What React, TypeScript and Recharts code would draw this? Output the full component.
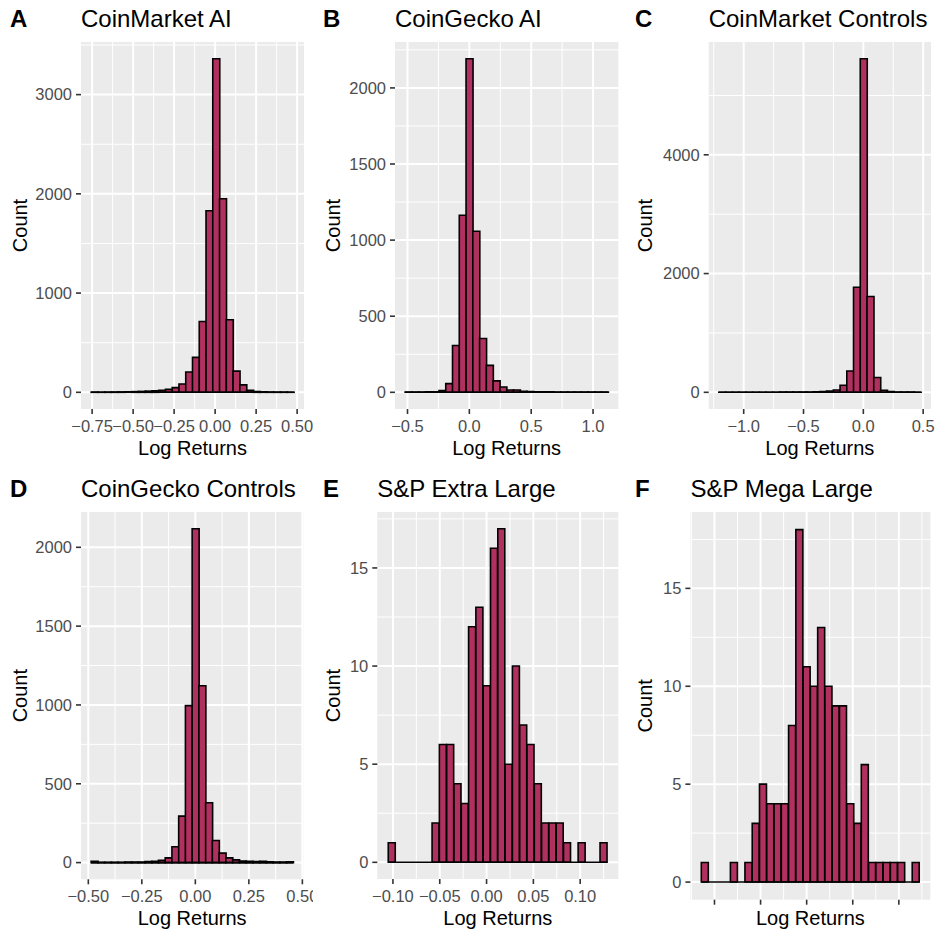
import React from "react";
import { BarChart, Bar, XAxis, YAxis, CartesianGrid, ReferenceLine } from "recharts";

const FONT = "'Liberation Sans', Arial, Helvetica, sans-serif";
const BAR_FILL = "#B03060";
const PANEL_BG = "#EBEBEB";

// A - CoinMarket AI
const cmAiCounts = [2, 1, 2, 3, 4, 5, 7, 9, 12, 15, 20, 30, 47, 84, 204, 352, 714, 1830, 3362, 1951, 731, 214, 75, 20, 8, 5, 3, 2, 2, 1];
const cmAiBin = { start: -0.756, width: 0.0412 };
const cmAiXTicks = [-0.75, -0.5, -0.25, 0, 0.25, 0.5];
const cmAiXLabels = ["\u22120.75", "\u22120.50", "\u22120.25", "0.00", "0.25", "0.50"];
const cmAiYTicks = [0, 1000, 2000, 3000];

// B - CoinGecko AI
const cgAiCounts = [1, 2, 2, 3, 4, 11, 57, 308, 1163, 2192, 1058, 354, 177, 75, 35, 15, 15, 6, 5, 4, 3, 3, 2, 2, 2, 2, 1, 1, 1, 2];
const cgAiBin = { start: -0.519, width: 0.0547 };
const cgAiXTicks = [-0.5, 0, 0.5, 1.0];
const cgAiXLabels = ["\u22120.5", "0.0", "0.5", "1.0"];
const cgAiYTicks = [0, 500, 1000, 1500, 2000];

// C - CoinMarket Controls
const cmCtrlCounts = [2, 1, 1, 1, 1, 2, 1, 2, 2, 3, 3, 4, 5, 6, 8, 12, 20, 39, 120, 360, 1770, 5619, 1613, 250, 34, 11, 6, 4, 3, 2];
const cmCtrlBin = { start: -1.208, width: 0.0563 };
const cmCtrlXTicks = [-1.0, -0.5, 0, 0.5];
const cmCtrlXLabels = ["\u22121.0", "\u22120.5", "0.0", "0.5"];
const cmCtrlYTicks = [0, 2000, 4000];

// D - CoinGecko Controls
const cgCtrlCounts = [8, 2, 2, 2, 2, 3, 3, 4, 6, 8, 14, 30, 101, 295, 996, 2118, 1122, 380, 140, 60, 30, 17, 10, 8, 7, 9, 5, 4, 3, 5];
const cgCtrlBin = { start: -0.487, width: 0.03147 };
const cgCtrlXTicks = [-0.5, -0.25, 0, 0.25, 0.5];
const cgCtrlXLabels = ["\u22120.50", "\u22120.25", "0.00", "0.25", "0.50"];
const cgCtrlYTicks = [0, 500, 1000, 1500, 2000];

// E - S&P Extra Large
const spXlCounts = [1, 0, 0, 0, 0, 0, 2, 6, 6, 4, 3, 12, 13, 9, 16, 17, 5, 10, 7, 6, 4, 2, 2, 2, 1, 0, 1, 0, 0, 1];
const spXlBin = { start: -0.105, width: 0.0078 };
const spXlXTicks = [-0.1, -0.05, 0, 0.05, 0.1];
const spXlXLabels = ["\u22120.10", "\u22120.05", "0.00", "0.05", "0.10"];
const spXlYTicks = [0, 5, 10, 15];

// F - S&P Mega Large (x tick labels are blank in the original)
const spMlCounts = [1, 0, 0, 0, 1, 0, 1, 3, 5, 4, 4, 4, 8, 18, 11, 10, 13, 10, 9, 9, 4, 3, 6, 1, 1, 1, 1, 1, 0, 1];
const spMlBin = { start: -0.1143, width: 0.00789 };
const spMlXTicks = [-0.1, -0.05, 0, 0.05, 0.1];
const spMlXLabels = ["", "", "", "", ""];
const spMlYTicks = [0, 5, 10, 15];

const PW = 938 / 3;

function minorBreaks(major: number[], domain: number[]) {
  const step = major[1] - major[0];
  const out: number[] = [];
  for (let v = major[0] - step / 2; v <= domain[1]; v += step) {
    if (v >= domain[0]) out.push(v);
  }
  return out;
}

interface PanelProps {
  letter: string;
  title: string;
  counts: number[];
  bin: { start: number; width: number };
  xTicks: number[];
  xLabels: string[];
  yTicks: number[];
  left: number;
  top: number;
  height: number;
  plot: { l: number; r: number; t: number; b: number };
}

const Panel = (p: PanelProps) => {
  const data = p.counts.map((c, i) => ({ x: p.bin.start + (i + 0.5) * p.bin.width, count: c }));
  const binEnd = p.bin.start + p.counts.length * p.bin.width;
  const xr = binEnd - p.bin.start;
  const xDomain = [p.bin.start - 0.05 * xr, binEnd + 0.05 * xr];
  const maxC = Math.max(...p.counts);
  const yDomain = [-0.05 * maxC, 1.05 * maxC];
  const { l, r, t, b } = p.plot;

  return (
    <div style={{ position: "absolute", left: p.left, top: p.top, width: PW, height: p.height, background: "#fff" }}>
      <BarChart
        width={PW}
        height={p.height}
        data={data}
        margin={{ top: t, right: PW - r, bottom: 0, left: 0 }}
        barCategoryGap={0}
        barGap={0}
      >
        <CartesianGrid
          fill={PANEL_BG}
          fillOpacity={1}
          stroke="#FFFFFF"
          strokeWidth={1}
          horizontalValues={minorBreaks(p.yTicks, yDomain)}
          verticalValues={minorBreaks(p.xTicks, xDomain)}
        />
        <CartesianGrid
          fill="none"
          stroke="#FFFFFF"
          strokeWidth={2}
          horizontalValues={p.yTicks}
          verticalValues={p.xTicks}
        />
        <XAxis
          dataKey="x"
          type="number"
          domain={xDomain}
          allowDataOverflow
          ticks={p.xTicks}
          interval={0}
          tickFormatter={(_v: number, i: number) => p.xLabels[i]}
          height={p.height - b}
          axisLine={false}
          tickSize={5}
          tickMargin={6}
          tickLine={{ stroke: "#333333", strokeWidth: 1.6 }}
          tick={{ fill: "#4D4D4D", fontSize: 16.5, fontFamily: FONT }}
        />
        <YAxis
          type="number"
          domain={yDomain}
          allowDataOverflow
          ticks={p.yTicks}
          interval={0}
          width={l}
          axisLine={false}
          tickSize={5}
          tickMargin={4}
          tickLine={{ stroke: "#333333", strokeWidth: 1.6 }}
          tick={{ fill: "#4D4D4D", fontSize: 16.5, fontFamily: FONT }}
        />
        <Bar dataKey="count" fill={BAR_FILL} stroke="#000000" strokeWidth={1.6} isAnimationActive={false} />
        <ReferenceLine
          segment={[{ x: p.bin.start, y: 0 }, { x: binEnd, y: 0 }]}
          stroke="#000000"
          strokeWidth={1.6}
        />
      </BarChart>
      <svg
        width={PW}
        height={p.height}
        style={{ position: "absolute", left: 0, top: 0, pointerEvents: "none" }}
        fontFamily={FONT}
      >
        <text x={10} y={26.7} fontSize={24} fontWeight="bold" fill="#000">{p.letter}</text>
        <text x={l} y={26.7} fontSize={24} fill="#000">{p.title}</text>
        <text
          x={27}
          y={(t + b) / 2}
          fontSize={20}
          fill="#000"
          textAnchor="middle"
          transform={`rotate(-90 27 ${(t + b) / 2})`}
        >
          Count
        </text>
        <text x={(l + r) / 2} y={455} fontSize={20} fill="#000" textAnchor="middle">Log Returns</text>
      </svg>
    </div>
  );
};

export default function App() {
  return (
    <div style={{ position: "absolute", left: 0, top: 0, width: 938, height: 934, background: "#fff", overflow: "hidden" }}>
      <Panel letter="A" title="CoinMarket AI" counts={cmAiCounts} bin={cmAiBin} xTicks={cmAiXTicks} xLabels={cmAiXLabels}
        yTicks={cmAiYTicks} left={0} top={0} height={470} plot={{ l: 81, r: 304, t: 42, b: 409 }} />
      <Panel letter="B" title="CoinGecko AI" counts={cgAiCounts} bin={cgAiBin} xTicks={cgAiXTicks} xLabels={cgAiXLabels}
        yTicks={cgAiYTicks} left={PW} top={0} height={470} plot={{ l: 82, r: 305.3, t: 42, b: 409 }} />
      <Panel letter="C" title="CoinMarket Controls" counts={cmCtrlCounts} bin={cmCtrlBin} xTicks={cmCtrlXTicks} xLabels={cmCtrlXLabels}
        yTicks={cmCtrlYTicks} left={2 * PW} top={0} height={470} plot={{ l: 83.7, r: 306, t: 42, b: 409 }} />
      <Panel letter="D" title="CoinGecko Controls" counts={cgCtrlCounts} bin={cgCtrlBin} xTicks={cgCtrlXTicks} xLabels={cgCtrlXLabels}
        yTicks={cgCtrlYTicks} left={0} top={470} height={464} plot={{ l: 81, r: 303.3, t: 42, b: 409.3 }} />
      <Panel letter="E" title="S&P Extra Large" counts={spXlCounts} bin={spXlBin} xTicks={spXlXTicks} xLabels={spXlXLabels}
        yTicks={spXlYTicks} left={PW} top={470} height={464} plot={{ l: 64.3, r: 305.3, t: 42, b: 409 }} />
      <Panel letter="F" title="S&P Mega Large" counts={spMlCounts} bin={spMlBin} xTicks={spMlXTicks} xLabels={spMlXLabels}
        yTicks={spMlYTicks} left={2 * PW} top={470} height={464} plot={{ l: 65.4, r: 305.4, t: 42, b: 429.7 }} />
    </div>
  );
}
